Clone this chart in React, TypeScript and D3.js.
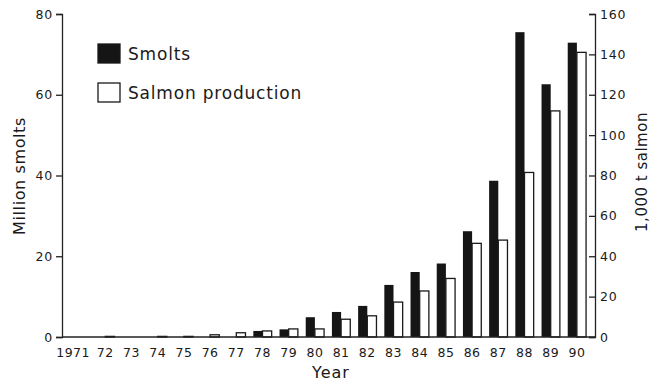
import React, { useEffect, useRef } from 'react';
import * as d3 from 'd3';

const years = ['1971', '72', '73', '74', '75', '76', '77', '78', '79', '80',
  '81', '82', '83', '84', '85', '86', '87', '88', '89', '90'];
// million smolts (left axis)
const smolts = [0, 0, 0, 0, 0, 0, 0, 1.5, 1.9, 4.9, 6.2, 7.7, 12.9, 16.1, 18.2, 26.2, 38.7, 75.5, 62.6, 72.9];
// 1,000 t salmon (right axis)
const salmon = [0, 0.3, 0, 0.3, 0.3, 1.1, 2.1, 3, 4, 4, 8.8, 10.5, 17.3, 22.8, 29, 46.4, 48, 81.5, 112, 141];
const leftTicks = [0, 20, 40, 60, 80];
const rightTicks = [0, 20, 40, 60, 80, 100, 120, 140, 160];

const W = 650;
const H = 383;
const FONT = '"DejaVu Sans", sans-serif';

export default function App() {
  const svgRef = useRef<SVGSVGElement>(null);

  useEffect(() => {
    const svg = d3.select(svgRef.current);
    svg.selectAll('*').remove();

    const left = 62, right = 595, top = 14, bottom = 337;

    // scales
    const x = d3.scaleBand().domain(years).range([66, 590]).paddingInner(0.3).paddingOuter(0.15);
    const sub = d3.scaleBand().domain(['smolts', 'salmon']).range([0, x.bandwidth()]);
    const yL = d3.scaleLinear().domain([0, 80]).range([bottom, top]);
    const yR = d3.scaleLinear().domain([0, 160]).range([bottom, top]);

    // smolt bars
    svg.append('g').selectAll('rect')
      .data(years)
      .enter()
      .append('rect')
      .attr('x', d => x(d)! + sub('smolts')!)
      .attr('y', (d, i) => yL(smolts[i]))
      .attr('width', sub.bandwidth())
      .attr('height', (d, i) => bottom - yL(smolts[i]))
      .attr('fill', '#151515')
      .attr('display', (d, i) => smolts[i] > 0 ? null : 'none');

    // salmon bars
    svg.append('g').selectAll('rect')
      .data(years)
      .enter()
      .append('rect')
      .attr('x', d => x(d)! + sub('salmon')!)
      .attr('y', (d, i) => yR(salmon[i]))
      .attr('width', sub.bandwidth())
      .attr('height', (d, i) => bottom - yR(salmon[i]))
      .attr('fill', '#fff')
      .attr('stroke', '#1a1a1a')
      .attr('stroke-width', 1.3)
      .attr('display', (d, i) => salmon[i] > 0 ? null : 'none');

    // axes
    const gL = svg.append('g')
      .attr('transform', `translate(${left},0)`)
      .call(d3.axisLeft(yL).tickValues(leftTicks).tickSize(6).tickPadding(3));
    const gR = svg.append('g')
      .attr('transform', `translate(${right},0)`)
      .call(d3.axisRight(yR).tickValues(rightTicks).tickSize(-6).tickPadding(5));

    [gL, gR].forEach(g => {
      g.select('.domain').attr('stroke', '#222').attr('stroke-width', 1.3);
      g.selectAll('.tick line').attr('stroke', '#222').attr('stroke-width', 1.3);
      g.selectAll('.tick text')
        .attr('font-family', FONT)
        .attr('font-size', 12.5)
        .attr('letter-spacing', 0.8)
        .attr('fill', '#1a1a1a');
    });

    // baseline
    svg.append('line')
      .attr('x1', left).attr('x2', right)
      .attr('y1', bottom).attr('y2', bottom)
      .attr('stroke', '#222').attr('stroke-width', 1.3);

    // year labels
    svg.append('g').selectAll('text')
      .data(years)
      .enter()
      .append('text')
      .text(d => d)
      .attr('x', d => x(d)! + x.bandwidth() / 2)
      .attr('dx', (d, i) => i === 0 ? -6 : 0)
      .attr('y', 357)
      .attr('text-anchor', 'middle')
      .attr('font-family', FONT)
      .attr('font-size', 12.5)
      .attr('letter-spacing', 0.5)
      .attr('fill', '#1a1a1a');

    // axis titles
    svg.append('text')
      .text('Year')
      .attr('x', 331).attr('y', 378)
      .attr('text-anchor', 'middle')
      .attr('font-family', FONT).attr('font-size', 16).attr('letter-spacing', 1)
      .attr('fill', '#1a1a1a');

    svg.append('text')
      .text('Million smolts')
      .attr('transform', 'translate(25,176) rotate(-90)')
      .attr('text-anchor', 'middle')
      .attr('font-family', FONT).attr('font-size', 16).attr('letter-spacing', 0.6)
      .attr('fill', '#1a1a1a');

    svg.append('text')
      .text('1,000 t salmon')
      .attr('transform', 'translate(647,172) rotate(-90)')
      .attr('text-anchor', 'middle')
      .attr('font-family', FONT).attr('font-size', 15).attr('letter-spacing', 0.5)
      .attr('fill', '#1a1a1a');

    // legend
    const legend = [
      { label: 'Smolts', fill: '#151515' },
      { label: 'Salmon production', fill: '#fff' },
    ];
    const lg = svg.append('g').selectAll('g')
      .data(legend)
      .enter()
      .append('g')
      .attr('transform', (d, i) => `translate(98,${44 + i * 39})`);
    lg.append('rect')
      .attr('width', 22).attr('height', 19)
      .attr('fill', d => d.fill)
      .attr('stroke', '#1a1a1a').attr('stroke-width', 1.3);
    lg.append('text')
      .text(d => d.label)
      .attr('x', 30).attr('y', 16)
      .attr('font-family', FONT).attr('font-size', 17).attr('letter-spacing', 0.8)
      .attr('fill', '#1a1a1a');
  }, []);

  return (
    <div style={{ position: 'fixed', left: 0, top: 0 }}>
      <svg ref={svgRef} width={W} height={H} style={{ display: 'block', background: '#fff' }}></svg>
    </div>
  );
}
